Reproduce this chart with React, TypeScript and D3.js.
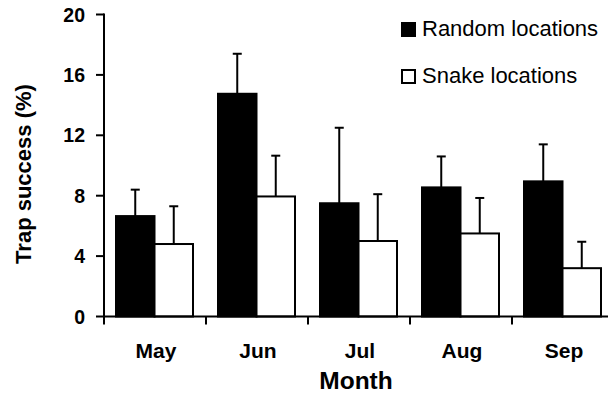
import React from "react";
import * as d3 from "d3";

const months = ["May", "Jun", "Jul", "Aug", "Sep"];
const seriesNames = ["Random locations", "Snake locations"];
const randomValues = [6.65, 14.75, 7.5, 8.55, 8.95];
const randomErrTop = [8.4, 17.4, 12.5, 10.6, 11.4];
const snakeValues = [4.8, 7.95, 5.0, 5.5, 3.2];
const snakeErrTop = [7.3, 10.65, 8.1, 7.85, 4.95];
const yTicks = [0, 4, 8, 12, 16, 20];

const W = 608;
const H = 393;
const FONT = "'Liberation Sans', Arial, Helvetica, sans-serif";

export default function App() {
  const x0 = 104;
  const y = d3.scaleLinear().domain([0, 20]).range([316.5, 14.5]);
  const x = d3.scaleBand<string>().domain(months).range([x0, x0 + 102 * 5]).paddingInner(0).paddingOuter(0);
  const xs = d3.scaleBand<string>().domain(seriesNames).range([12, 89]).padding(0);

  const series = [
    { name: seriesNames[0], values: randomValues, err: randomErrTop, fill: "#000" },
    { name: seriesNames[1], values: snakeValues, err: snakeErrTop, fill: "#fff" },
  ];

  const bw = xs.bandwidth();
  const boundaries = months.map((m) => x(m) as number).concat([(x(months[4]) as number) + x.bandwidth()]);

  return (
    <svg width={W} height={H} style={{ position: "absolute", left: 0, top: 0 }} fontFamily={FONT}>
      <rect x={0} y={0} width={W} height={H} fill="#fff" />
      {/* error bars */}
      {series.map((s) =>
        months.map((m, i) => {
          const cx = (x(m) as number) + (xs(s.name) as number) + bw / 2;
          return (
            <g key={s.name + m + "e"}>
              <line x1={cx} x2={cx} y1={y(s.values[i])} y2={y(s.err[i])} stroke="#000" strokeWidth={2} />
              <line x1={cx - 4.5} x2={cx + 4.5} y1={y(s.err[i])} y2={y(s.err[i])} stroke="#000" strokeWidth={2} />
            </g>
          );
        })
      )}
      {/* bars */}
      {series.map((s) =>
        months.map((m, i) => (
          <rect
            key={s.name + m}
            x={(x(m) as number) + (xs(s.name) as number)}
            y={y(s.values[i])}
            width={bw}
            height={y(0) - y(s.values[i])}
            fill={s.fill}
            stroke="#000"
            strokeWidth={2}
          />
        ))
      )}
      {/* y axis */}
      <line x1={x0} x2={x0} y1={y(20) - 1} y2={y(0) + 1} stroke="#000" strokeWidth={2} />
      {yTicks.map((t) => (
        <g key={t}>
          <line x1={x0 - 8} x2={x0} y1={y(t)} y2={y(t)} stroke="#000" strokeWidth={2} />
          <text x={x0 - 19} y={y(t)} dy="0.36em" textAnchor="end" fontSize={19.5} fontWeight="bold">
            {t}
          </text>
        </g>
      ))}
      {/* x axis */}
      <line x1={x0 - 1} x2={W} y1={y(0)} y2={y(0)} stroke="#000" strokeWidth={2} />
      {boundaries.map((b, i) => (
        <line key={i} x1={b} x2={b} y1={y(0)} y2={y(0) + 8} stroke="#000" strokeWidth={2} />
      ))}
      {months.map((m) => (
        <text key={m} x={(x(m) as number) + 52} y={358} textAnchor="middle" fontSize={21} fontWeight="bold">
          {m}
        </text>
      ))}
      <text x={356} y={389} textAnchor="middle" fontSize={24.5} fontWeight="bold">
        Month
      </text>
      <text
        transform={`translate(31, 174) rotate(-90)`}
        textAnchor="middle"
        fontSize={22}
        fontWeight="bold"
      >
        Trap success (%)
      </text>
      {/* legend */}
      {series.map((s, i) => (
        <g key={s.name + "leg"} transform={`translate(401, ${22 + i * 47})`}>
          <rect x={1} y={1} width={13} height={13} fill={s.fill} stroke="#000" strokeWidth={2} />
          <text x={21} y={14} fontSize={22}>
            {s.name}
          </text>
        </g>
      ))}
    </svg>
  );
}
